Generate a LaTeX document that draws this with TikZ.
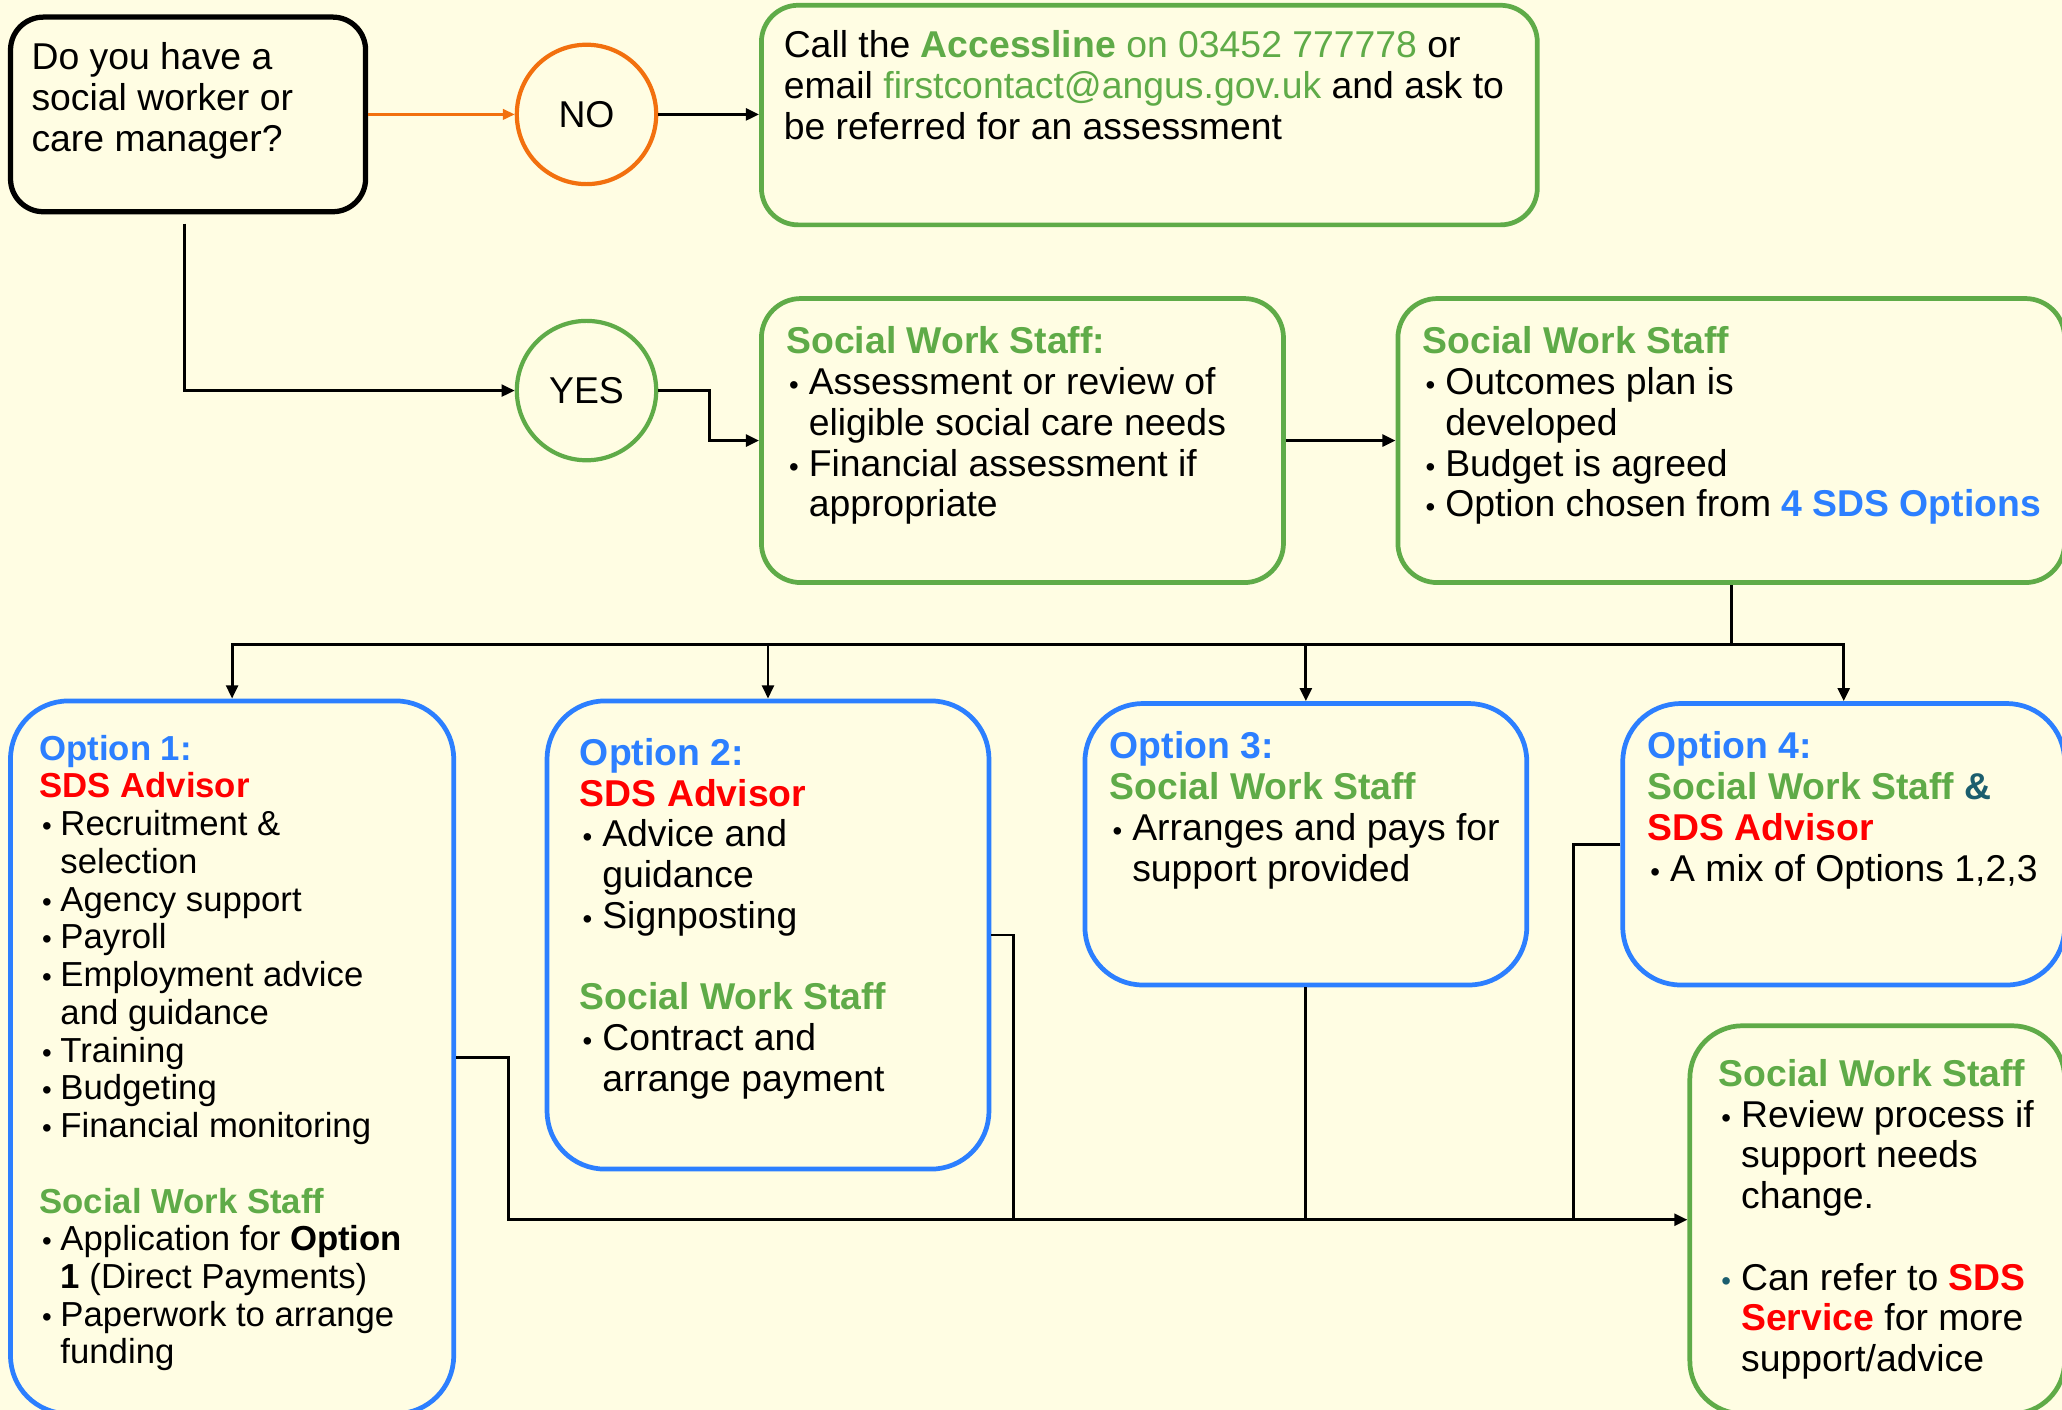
\documentclass[tikz,border=0pt]{standalone}
\usepackage{fontspec}
\setmainfont{Liberation Sans}
\usetikzlibrary{arrows.meta,calc}
\definecolor{bgc}{HTML}{FFFDE3}
\definecolor{grn}{HTML}{5FAB48}
\definecolor{blu}{HTML}{2C7FFF}
\definecolor{sdsred}{HTML}{FF0000}
\definecolor{org}{HTML}{F2700F}
\definecolor{tealc}{HTML}{1B5E6E}
\newlength\bulind
\setlength\bulind{8.5pt}
\newcommand\bsym{{\fontsize{10.5}{10}\selectfont\textbullet}}
\newcommand\bitem[1][black]{\par\noindent\hangindent=\bulind\hangafter=1\makebox[\bulind][l]{\hspace{1pt}\textcolor{#1}{\bsym}}\ignorespaces}
\newcommand\blankln{\par\mbox{}\par}
\newcommand\nl{\newline}
\newcommand\fsa{\fontsize{14.2}{15.5}\selectfont}
\newcommand\fsb{\fontsize{13.2}{14.35}\selectfont}
\newcommand\tb[2]{\parbox[t]{#1}{\parindent=0pt\parskip=0pt\raggedright #2}}
\newcommand\hg[1]{\textcolor{grn}{\textbf{#1}}}
\newcommand\hb[1]{\textcolor{blu}{\textbf{#1}}}
\newcommand\hr[1]{\textcolor{sdsred}{\textbf{#1}}}
\begin{document}
\begin{tikzpicture}[x=0.5pt,y=-0.5pt,
  boxsize/.style 2 args={minimum width=#1*0.5pt, minimum height=#2*0.5pt, inner sep=0pt},
  qbox/.style={draw=black, line width=2pt, rounded corners=12.5pt},
  gbox/.style={draw=grn, line width=1.8pt, rounded corners=14pt},
  bbox/.style={draw=blu, line width=1.8pt, rounded corners=22pt},
  circ/.style={circle, line width=1.6pt, minimum size=53pt, inner sep=0pt, font=\fsa},
  conn/.style={draw=black, line width=1.1pt},
  arr/.style={conn, -{Triangle[length=5pt,width=4.5pt]}},
  txt/.style={anchor=base west, inner sep=0pt, outer sep=0pt}]
\useasboundingbox (0,0) rectangle (1568,1072);
\clip (0,0) rectangle (1568,1072);
\fill[bgc] (0,0) rectangle (1568,1072);

% boxes
\node[qbox, boxsize={270}{148}] (q) at (143,87) {};
\node[circ, draw=org] (no) at (446,87) {NO};
\node[circ, draw=grn] (yes) at (446,297) {YES};
\node[gbox, boxsize={590}{167}] (call) at (874,87.5) {};
\node[gbox, rounded corners=15pt, boxsize={397}{216}] (b1) at (777.5,335) {};
\node[gbox, rounded corners=15pt, boxsize={507}{216}] (b2) at (1316.5,335) {};
\node[bbox, boxsize={337}{542}] (o1) at (176.5,804) {};
\node[bbox, boxsize={336}{356}] (o2) at (584,711) {};
\node[bbox, boxsize={336}{214}] (o3) at (993,642) {};
\node[bbox, boxsize={336}{214}] (o4) at (1402,642) {};
\node[gbox, rounded corners=20pt, boxsize={285}{295}] (rev) at (1427.5,927.5) {};

% texts
\node[txt] (qt) at (24,53) {\tb{300pt}{\fsa Do you have a\nl social worker or\nl care manager?}};
\node[txt] (callt) at (596,44) {\tb{400pt}{\fsa Call the \textcolor{grn}{\textbf{Accessline} on 03452 777778} or\nl email \textcolor{grn}{firstcontact@angus.gov.uk} and ask to\nl be referred for an assessment}};
\node[txt] (b1t) at (598,269) {\tb{300pt}{\fsa \hg{Social Work Staff:}\bitem Assessment or review of\nl eligible social care needs\bitem Financial assessment if\nl appropriate}};
\node[txt] (b2t) at (1082,269) {\tb{300pt}{\fsa \hg{Social Work Staff}\bitem Outcomes plan is\nl developed\bitem Budget is agreed\bitem Option chosen from \hb{4 SDS Options}}};
\node[txt] (o1t) at (30,578) {\setlength\bulind{8pt}\tb{300pt}{\fsb \hb{Option 1:}\nl \hr{SDS Advisor}\bitem Recruitment \&\nl selection\bitem Agency support\bitem Payroll\bitem Employment advice\nl and guidance\bitem Training\bitem Budgeting\bitem Financial monitoring\blankln\hg{Social Work Staff}\bitem Application for \textbf{Option}\nl \textbf{1} (Direct Payments)\bitem Paperwork to arrange\nl funding}};
\node[txt] (o2t) at (441,582) {\tb{300pt}{\fsa \hb{Option 2:}\nl \hr{SDS Advisor}\bitem Advice and\nl guidance\bitem Signposting\blankln\hg{Social Work Staff}\bitem Contract and\nl arrange payment}};
\node[txt] (o3t) at (844,577) {\tb{300pt}{\fsa \hb{Option 3:}\nl \hg{Social Work Staff}\bitem Arranges and pays for\nl support provided}};
\node[txt] (o4t) at (1253,577) {\tb{300pt}{\fsa \hb{Option 4:}\nl \hg{Social Work Staff} \textcolor{tealc}{\textbf{\&}}\nl \hr{SDS Advisor}\bitem A mix of Options 1,2,3}};
\node[txt] (revt) at (1307,826) {\tb{300pt}{\fsa \hg{Social Work Staff}\bitem Review process if\nl support needs\nl change.\blankln\bitem[tealc] Can refer to \hr{SDS}\nl \hr{Service} for more\nl support/advice}};

% connectors
\draw[conn, draw=org, line width=0.9pt, -{Triangle[length=4.5pt,width=4pt]}] (q.east) -- (no.west);
\draw[arr] (no.east) -- (no.east -| call.west);
\draw[arr] ([xshift=-1.5pt,yshift=-3.5pt]q.south) |- (yes.west);
\draw[arr] (yes.east) -- ++(39,0) |- (b1.west);
\draw[arr] (b1.east) -- (b2.west);
\coordinate (bus) at ($(b2.south)+(0,45)$);
\draw[conn] (b2.south) -- (bus);
\foreach \o in {o1,o2,o3,o4} \draw[arr] (bus) -| (\o.north);
\draw[arr] (o1.east) -- ++(40,0) |- (rev.west);
\draw[conn] (o2.east) -- ++(17,0) coordinate (t2) -- (t2 |- rev.west);
\draw[conn] (o3.south) -- (o3.south |- rev.west);
\draw[conn] (o4.west) -- ++(-36,0) coordinate (t4) -- (t4 |- rev.west);
\end{tikzpicture}
\end{document}
